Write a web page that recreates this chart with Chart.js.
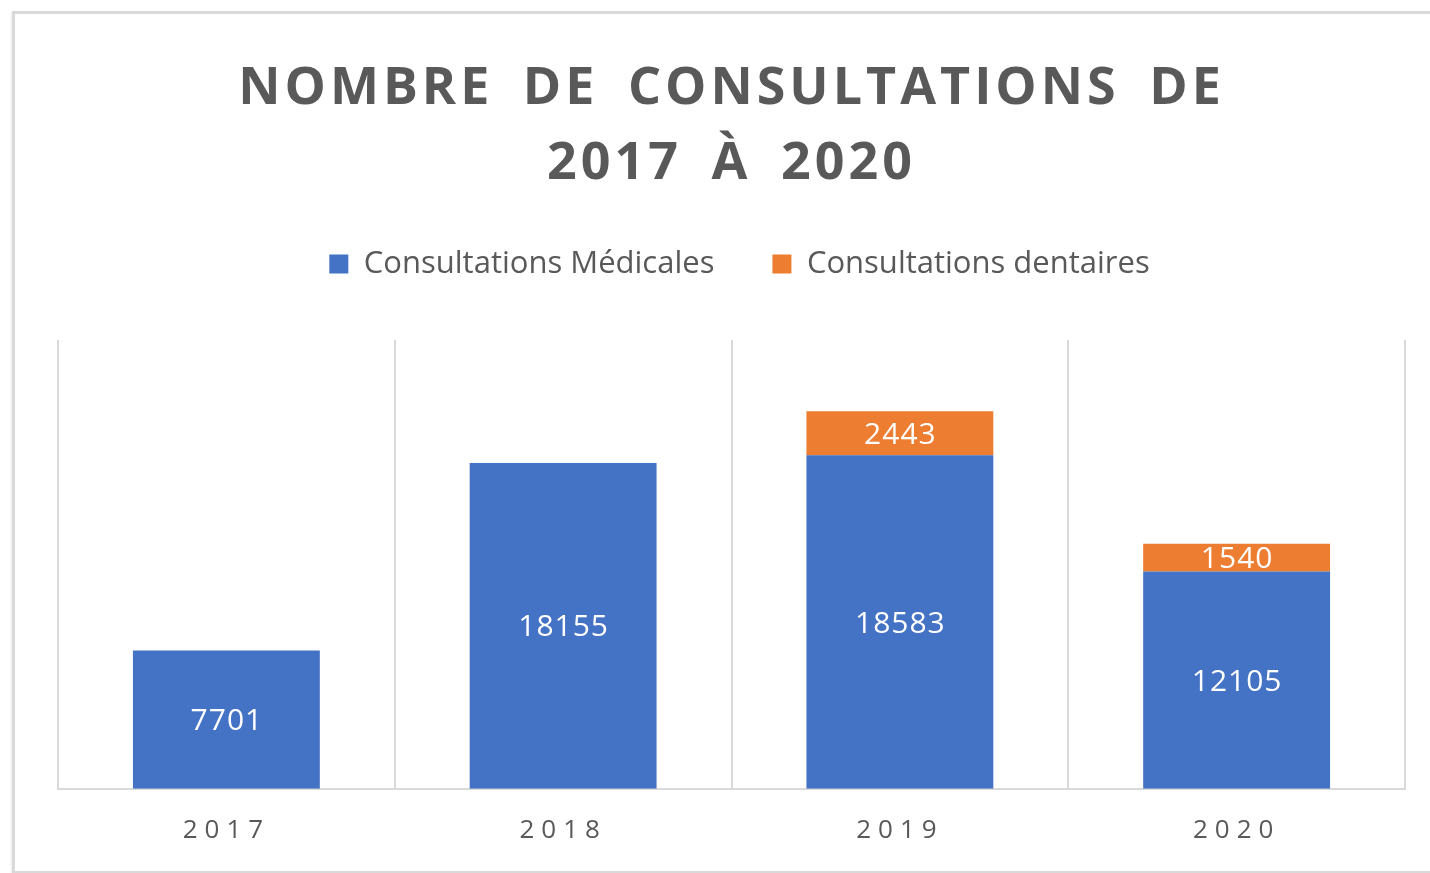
<!DOCTYPE html>
<html>
<head>
<meta charset="utf-8">
<script src="https://cdn.jsdelivr.net/npm/chart.js@4.4.1/dist/chart.umd.min.js"></script>
<style>
  html, body { margin: 0; padding: 0; background: #ffffff; overflow: hidden; }
  #frame { position: absolute; left: 12px; top: 11px; width: 1450px; height: 857px;
           border: 3px solid #d9d9d9; box-shadow: -1px 1px 2px rgba(0,0,0,0.08); background: #fff; }
  #c { position: absolute; left: 0; top: 0; }
</style>
</head>
<body>
<div id="frame"></div>
<canvas id="c" width="1430" height="873"></canvas>
<script>
const titleLines = ['NOMBRE DE CONSULTATIONS DE', '2017 À 2020'];
const categories = ['2017', '2018', '2019', '2020'];
const medicalLabel = 'Consultations Médicales';
const dentalLabel = 'Consultations dentaires';
const medicalValues = [7701, 18155, 18583, 12105];
const dentalValues = [null, null, 2443, 1540];

const GRAY = '#595959';
const FONT = "'Open Sans', sans-serif";
const LEGEND_BLOCK_HEIGHT = 149.5;

const spacingPlugin = {
  id: 'spacing',
  afterInit(chart) {
    const lg = chart.legend;
    if (lg) {
      const of = lg.fit;
      lg.fit = function (...a) {
        of.apply(this, a);
        this.height = LEGEND_BLOCK_HEIGHT;
        if (this.lineWidths && this.lineWidths.length) this.lineWidths[0] -= 16;
      };
    }
  },
  beforeDraw(chart) {
    if (chart.$patched) return;
    chart.$patched = true;
    const tb = chart.titleBlock;
    if (tb) {
      const od = tb.draw;
      tb.draw = function (...a) {
        const c = chart.ctx; c.save(); c.letterSpacing = '4px'; c.wordSpacing = '12px'; od.apply(this, a); c.restore();
      };
    }
    const xs = chart.scales.x;
    const odl = xs.drawLabels;
    xs.drawLabels = function (...a) {
      const c = chart.ctx; c.save(); c.letterSpacing = '7px'; odl.apply(this, a); c.restore();
    };
  }
};

const valueLabels = {
  id: 'valueLabels',
  afterDatasetsDraw(chart) {
    const ctx = chart.ctx;
    ctx.save();
    ctx.fillStyle = '#ffffff';
    ctx.font = "30px " + FONT;
    ctx.textAlign = 'center';
    ctx.textBaseline = 'middle';
    ctx.letterSpacing = '1px';
    chart.data.datasets.forEach((ds, i) => {
      const meta = chart.getDatasetMeta(i);
      meta.data.forEach((bar, j) => {
        const v = ds.data[j];
        if (v === null || v === undefined) return;
        const p = bar.getProps(['x', 'y', 'base'], true);
        ctx.fillText(String(v), p.x + 0.5, (p.y + p.base) / 2 + 2);
      });
    });
    ctx.restore();
  }
};

new Chart(document.getElementById('c'), {
  type: 'bar',
  data: {
    labels: categories,
    datasets: [
      { label: medicalLabel, data: medicalValues, backgroundColor: '#4472C4', borderWidth: 0,
        barPercentage: 0.555, categoryPercentage: 1 },
      { label: dentalLabel, data: dentalValues, backgroundColor: '#ED7D31', borderWidth: 0,
        barPercentage: 0.555, categoryPercentage: 1 }
    ]
  },
  options: {
    responsive: false,
    animation: false,
    devicePixelRatio: 1,
    layout: { padding: { left: 58, right: 25, top: 0, bottom: 1 } },
    plugins: {
      title: {
        display: true,
        text: titleLines,
        color: GRAY,
        font: { family: FONT, size: 52, weight: 'bold', lineHeight: 1.4423 },
        padding: { top: 51.5, bottom: -11 }
      },
      legend: {
        display: true,
        position: 'top',
        labels: {
          color: GRAY,
          font: { family: FONT, size: 31 },
          boxWidth: 19,
          boxHeight: 19,
          padding: 58
        }
      },
      tooltip: { enabled: false }
    },
    scales: {
      x: {
        stacked: true,
        grid: { display: true, offset: true, color: '#d9d9d9', lineWidth: 2, drawTicks: false },
        border: { display: true, color: '#d9d9d9', width: 2 },
        ticks: { color: GRAY, font: { family: FONT, size: 26 }, padding: 26 }
      },
      y: {
        stacked: true,
        display: false,
        min: 0,
        max: 25000
      }
    }
  },
  plugins: [spacingPlugin, valueLabels]
});
</script>
</body>
</html>
